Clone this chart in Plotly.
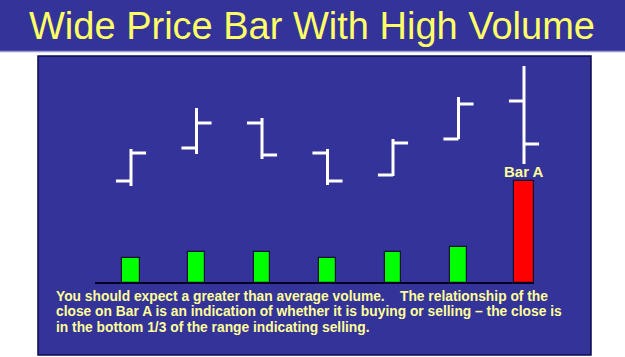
import plotly.graph_objects as go

# ---- data ----
bars = [1, 2, 3, 4, 5, 6, 7]
open_ = [19, 52, 77, 47, 25, 61, 99]
high = [51, 92, 82, 51, 61, 103, 134]
low = [14, 46, 41, 15, 24, 61, 36]
close = [47, 77, 45, 19, 57, 96, 56]
volume = [25, 31, 31, 25, 31, 36, 102]
vol_colors = ["#00FF00"] * 6 + ["#FF0000"]
bar_label = "Bar A"
title_text = "Wide Price Bar With High Volume"
body_lines = [
    "You should expect a greater than average volume.    The relationship of the",
    "close on Bar A is an indication of whether it is buying or selling \u2013 the close is",
    "in the bottom 1/3 of the range indicating selling.",
]

W, H = 625, 357
BLUE = "#333399"

def py(px):
    return 1 - px / H

fig = go.Figure()
fig.add_trace(go.Ohlc(
    x=bars, open=open_, high=high, low=low, close=close,
    increasing=dict(line=dict(color="white", width=3)),
    decreasing=dict(line=dict(color="white", width=3)),
    tickwidth=0.23, xaxis="x", yaxis="y", hoverinfo="skip", showlegend=False,
))
fig.add_trace(go.Bar(
    x=bars, y=volume, marker=dict(color=vol_colors, line=dict(color="#111133", width=1.2)),
    width=[0.28, 0.245, 0.245, 0.245, 0.245, 0.245, 0.32],
    xaxis="x", yaxis="y2", hoverinfo="skip", showlegend=False,
))

px_per_unit = 65.5
x0 = 1 - 131 / px_per_unit
x1 = x0 + W / px_per_unit

shapes = [
    dict(type="rect", xref="paper", yref="paper", x0=0, x1=1, y0=py(51), y1=1,
         fillcolor=BLUE, line=dict(width=0), layer="below"),
    dict(type="line", xref="paper", yref="paper", x0=0, x1=1, y0=py(51.5), y1=py(51.5),
         line=dict(color="#9a9acc", width=1.5), layer="below"),
    dict(type="rect", xref="paper", yref="paper", x0=38 / W, x1=591 / W, y0=py(355), y1=py(56),
         fillcolor=BLUE, line=dict(color="#0a0a50", width=1.5), layer="below"),
    dict(type="line", xref="x", yref="y2", x0=1 - 36 / px_per_unit, x1=7 + 10 / px_per_unit,
         y0=0, y1=0, line=dict(color="#000022", width=1.8), layer="above"),
]

annotations = [
    dict(text=title_text, xref="paper", yref="paper", x=312 / W, y=py(26),
         xanchor="center", yanchor="middle", showarrow=False,
         font=dict(family="Liberation Sans, Arial", size=38, color="#FFFF66")),
    dict(text=bar_label, xref="x", yref="y2", x=bars[-1], y=volume[-1],
         xanchor="center", yanchor="bottom", showarrow=False, yshift=-1,
         font=dict(family="Liberation Sans, Arial", size=15, color="#FFFF99", weight="bold")),
]
for line, ypx in zip(body_lines, [296, 311.5, 327]):
    annotations.append(dict(
        text=line, xref="paper", yref="paper", x=54 / W, y=py(ypx),
        xanchor="left", yanchor="middle", align="left", showarrow=False,
        font=dict(family="Liberation Sans, Arial", size=13.8, color="#FFFF99", weight="bold")))

fig.update_layout(
    width=W, height=H,
    margin=dict(l=0, r=0, t=0, b=0),
    paper_bgcolor="white", plot_bgcolor="rgba(0,0,0,0)",
    showlegend=False,
    xaxis=dict(range=[x0, x1], visible=False, rangeslider=dict(visible=False), domain=[0, 1]),
    yaxis=dict(range=[0, 144], domain=[py(200), py(56)], visible=False),
    yaxis2=dict(range=[-4, 113], domain=[py(287), py(170)], visible=False, anchor="x"),
    shapes=shapes,
    annotations=annotations,
    bargap=0,
)

fig.write_html("out.html")
